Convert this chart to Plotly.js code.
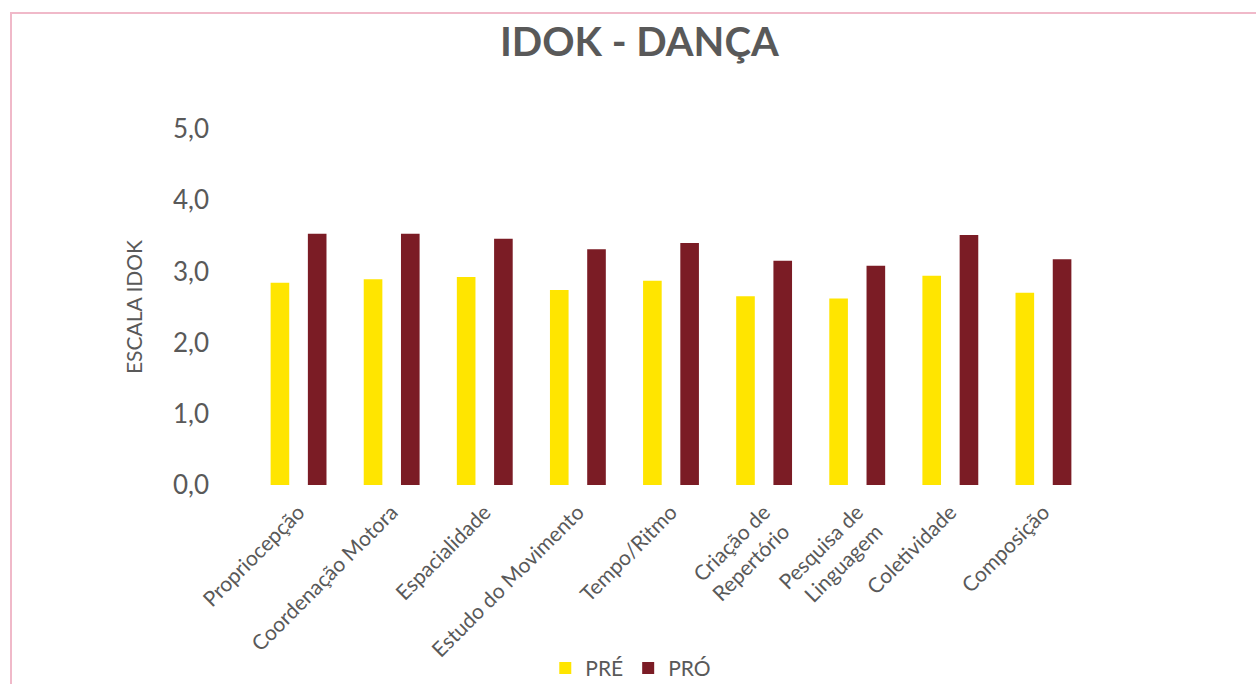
<!DOCTYPE html>
<html>
<head>
<meta charset="utf-8">
<script src="https://cdn.plot.ly/plotly-3.0.1.min.js"></script>
<style>
html,body{margin:0;padding:0;background:#fff;}
#wrap{position:relative;width:1256px;height:684px;overflow:hidden;}
#chart{position:absolute;left:0;top:0;width:1256px;height:684px;}
#frame{position:absolute;left:10px;top:12px;width:1260px;height:700px;border-top:2px solid #f0b9c9;border-left:2px solid #f0b9c9;pointer-events:none;}
</style>
</head>
<body>
<div id="wrap"><div id="chart"></div><div id="frame"></div></div>
<script>
const categories = ["Propriocepção","Coordenação Motora","Espacialidade","Estudo do Movimento","Tempo/Ritmo","Criação de<br>Repertório","Pesquisa de<br>Linguagem","Coletividade","Composição"];
const preValues = [2.84, 2.89, 2.92, 2.74, 2.87, 2.65, 2.62, 2.94, 2.70];
const proValues = [3.53, 3.53, 3.46, 3.31, 3.40, 3.15, 3.08, 3.51, 3.17];
const yTicks = [0,1,2,3,4,5];

const grey = "#595959";
const data = [
  {type:"bar", name:"PRÉ", x:categories, y:preValues, marker:{color:"#FFE500"}, hoverinfo:"y"},
  {type:"bar", name:"PRÓ", x:categories, y:proValues, marker:{color:"#7B1C25"}, hoverinfo:"y"}
];
const layout = {
  width:1256, height:684,
  paper_bgcolor:"#fff", plot_bgcolor:"#fff",
  font:{family:"Lato, 'Open Sans', sans-serif", color:grey},
  separators:",.",
  title:{text:"<b>IDOK - DANÇA</b>", x:0.509, xanchor:"center", y:0.938, yanchor:"middle", font:{size:40, color:grey, family:"Lato, sans-serif"}},
  margin:{l:252, r:166, t:129, b:199, autoexpand:false},
  barmode:"group", bargap:0.2, bargroupgap:0.5,
  xaxis:{tickangle:-45, tickfont:{size:21, color:grey}, showgrid:false, showline:false, zeroline:false, ticks:"", automargin:false, ticklabelstandoff:10},
  yaxis:{range:[0,5], tickvals:yTicks, tickformat:".1f", tickfont:{size:26, color:grey}, showgrid:false, zeroline:false, showline:false, ticks:"", ticklabelstandoff:42, automargin:false,
         title:{text:"ESCALA IDOK", font:{size:21, color:grey}, standoff:24}},
  legend:{orientation:"h", x:0.452, xanchor:"center", y:-0.515, yanchor:"middle", font:{size:21, color:grey}, itemwidth:30, traceorder:"normal"},
  showlegend:true
};
Plotly.newPlot("chart", data, layout, {displayModeBar:false, staticPlot:true});
</script>
</body>
</html>
